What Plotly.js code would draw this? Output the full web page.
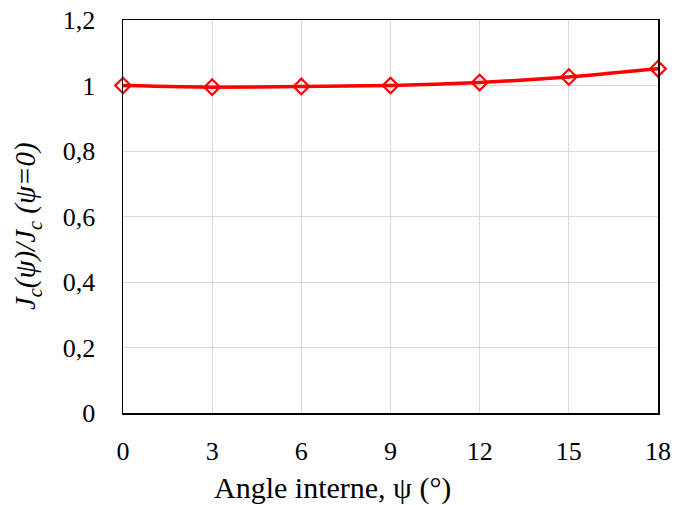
<!DOCTYPE html>
<html><head><meta charset="utf-8">
<script src="https://cdn.plot.ly/plotly-3.0.1.min.js"></script>
<style>body{margin:0;background:#fff}#c{width:678px;height:505px}</style>
</head><body><div id="c"></div>
<script>
var angles = [0, 3, 6, 9, 12, 15, 18];
var ratio = [1.000, 0.995, 0.997, 1.000, 1.009, 1.026, 1.051];
var xTicks = [0, 3, 6, 9, 12, 15, 18];
var yTicks = [0, 0.2, 0.4, 0.6, 0.8, 1, 1.2];
var xTitle = 'Angle interne, ψ (°)';
var yTitle = '<i>J<sub>c</sub>(ψ)/J<sub>c</sub> (ψ=0)</i>';

var fam = 'Liberation Serif, Times New Roman, serif';
var tickFont = {family: fam, size: 26, color: '#000'};
Plotly.newPlot('c', [{
  x: angles, y: ratio, type: 'scatter', mode: 'lines+markers',
  line: {color: '#ff0000', width: 3.5, shape: 'spline', smoothing: 0.6},
  marker: {symbol: 'diamond-open', size: 12, color: '#ff0000', line: {color: '#ff0000', width: 2.2}},
  cliponaxis: false
}], {
  width: 678, height: 505,
  margin: {l: 123, r: 20, t: 20, b: 92},
  separators: ', ',
  paper_bgcolor: '#fff', plot_bgcolor: '#fff',
  font: tickFont,
  showlegend: false,
  xaxis: {range: [0, 18], tickvals: xTicks, ticks: '', showline: true, mirror: true,
    linecolor: '#000', linewidth: 1.5, gridcolor: '#d9d9d9', gridwidth: 1, zeroline: false,
    tickfont: tickFont, ticklabelstandoff: 14},
  yaxis: {range: [0, 1.2], tickvals: yTicks, ticks: '', showline: true, mirror: true,
    linecolor: '#000', linewidth: 1.5, gridcolor: '#d9d9d9', gridwidth: 1, zeroline: false,
    tickfont: tickFont, ticklabelstandoff: 21},
  annotations: [
    {text: xTitle, xref: 'paper', yref: 'paper', x: 0.3907, y: -0.19, xanchor: 'center', yanchor: 'middle',
     showarrow: false, font: {family: fam, size: 30, color: '#000'}},
    {text: yTitle, xref: 'paper', yref: 'paper', x: -0.178, y: 0.475, xanchor: 'center', yanchor: 'middle',
     textangle: -90, showarrow: false, font: {family: fam, size: 29, color: '#000'}}
  ]
}, {displayModeBar: false, staticPlot: true});
</script></body></html>
